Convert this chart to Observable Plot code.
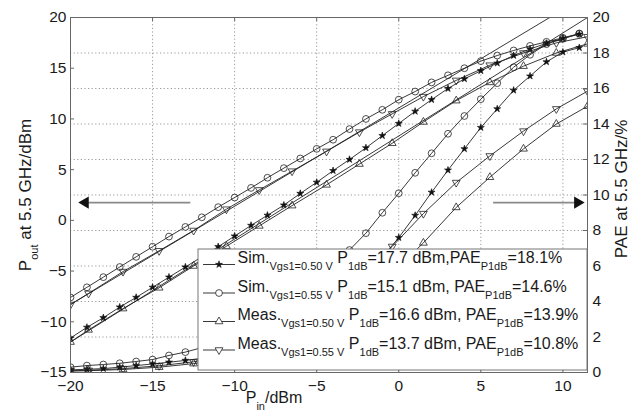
<!DOCTYPE html>
<html><head><meta charset="utf-8">
<script src="https://cdn.jsdelivr.net/npm/d3@7"></script>
<script src="https://cdn.jsdelivr.net/npm/@observablehq/plot@0.6"></script>
<style>
html,body{margin:0;padding:0;background:#fff;}
#chart{width:630px;height:411px;overflow:hidden;}
</style></head><body><div id="chart"></div>
<script>
// ---- data ----
const pinSim = [-20,-19,-18,-17,-16,-15,-14,-13,-12,-11,-10,-9,-8,-7,-6,-5,-4,-3,-2,-1,0,1,2,3,4,5,6,7,8,9,10,11];
const poutSim050 = [-11.6,-10.55,-9.6,-8.55,-7.6,-6.6,-5.6,-4.6,-3.6,-2.6,-1.55,-0.5,0.5,1.5,2.65,3.75,4.9,6.0,7.15,8.35,9.55,10.75,11.9,13.0,13.95,14.75,15.5,16.25,16.9,17.45,17.95,18.35];
const poutSim055 = [-7.6,-6.6,-5.6,-4.6,-3.6,-2.6,-1.6,-0.65,0.3,1.3,2.25,3.2,4.2,5.15,6.1,7.05,7.95,9.0,10.0,10.9,11.9,12.7,13.6,14.3,15.0,15.7,16.25,16.75,17.2,17.6,18.0,18.4];
const paeSim050 = [0.15,0.18,0.22,0.3,0.39,0.48,0.58,0.68,0.8,0.95,1.15,1.4,1.7,2.05,2.5,3.05,3.75,4.6,5.5,6.5,7.6,8.85,10.15,11.4,12.6,13.8,14.85,15.9,16.7,17.5,18.05,18.3];
const paeSim055 = [0.3,0.39,0.45,0.52,0.62,0.73,0.96,1.15,1.4,1.7,2.1,2.6,3.1,3.8,4.5,5.3,6.1,6.9,7.85,9.0,10.1,11.25,12.35,13.45,14.45,15.4,16.3,17.2,17.9,18.5,18.8,19.1];
const pinMeas = [-20,-18.9,-16.8,-14.6,-12.5,-10.5,-8.5,-6.5,-4.4,-2.4,-0.4,1.5,3.5,5.55,7.6,9.6,11.5];
const poutMeas050 = [-12.0,-10.8,-8.7,-6.65,-4.5,-2.55,-0.55,1.45,3.5,5.55,7.6,9.7,11.8,13.6,15.2,16.5,17.4];
const poutMeas055 = [-8.3,-7.2,-5.05,-3.0,-1.0,1.1,3.0,4.85,6.8,8.7,10.5,12.2,13.8,15.3,16.5,17.5,18.1];
const paeMeas050 = [0.08,0.1,0.17,0.3,0.5,0.8,1.25,1.9,2.8,4.0,5.6,7.3,9.3,11.0,12.6,14.0,15.0];
const paeMeas055 = [0.1,0.12,0.22,0.38,0.6,1.0,1.6,2.5,3.7,5.3,7.1,8.95,10.7,12.2,13.6,14.85,15.85];
// linear (small-signal) extrapolation lines of the measured curves
const fitMeas055X = [-20, 9.2], fitMeas055Y = [-8.3, 20];
const fitMeas050X = [-20, 11.5], fitMeas050Y = [-12.0, 20];
// axes
const xTicks = [-20,-15,-10,-5,0,5,10];
const leftTicks = [-15,-10,-5,0,5,10,15,20];
const rightTicks = [0,2,4,6,8,10,12,14,16,18,20];
// legend
const seriesNames = ["Sim.","Sim.","Meas.","Meas."];
const seriesSubs = ["Vgs1=0.50 V","Vgs1=0.55 V","Vgs1=0.50 V","Vgs1=0.55 V"];
const p1dB = ["17.7","15.1","16.6","13.7"];
const paeP1dB = ["18.1","14.6","13.9","10.8"];
const seriesSymbols = ["star","circle","triangle","triangle"];
// annotation arrows (x from tail to head, y in left-axis units)
const arrowLeftX = [-12.7, -19.1], arrowRightX = [5.75, 10.9], arrowY = 1.75;

// ---- build ----
const toLeft = p => -15 + p * 35 / 20;
const fromLeft = v => (v + 15) * 20 / 35;
function series(xs, ys, key, pae) {
  return xs.map((x, i) => ({x, y: pae ? toLeft(ys[i]) : ys[i], key}));
}
const starData = [...series(pinSim, poutSim050, "s50p"), ...series(pinSim, paeSim050, "s50e", true)];
const circData = [...series(pinSim, poutSim055, "s55p"), ...series(pinSim, paeSim055, "s55e", true)];
const upData = [...series(pinMeas, poutMeas050, "m50p"), ...series(pinMeas, paeMeas050, "m50e", true)];
const downData = [...series(pinMeas, poutMeas055, "m55p"), ...series(pinMeas, paeMeas055, "m55e", true)];
const fitData = [...series(fitMeas055X, fitMeas055Y, "f55"), ...series(fitMeas050X, fitMeas050Y, "f50")];
const allCurves = [...starData, ...circData, ...upData, ...downData];
const arrowShaft = [
  {x1: arrowLeftX[0], x2: arrowLeftX[1], y: arrowY},
  {x1: arrowRightX[0], x2: arrowRightX[1], y: arrowY}
];
const arrowHeads = [
  {x: arrowLeftX[1], y: arrowY, rot: -90},
  {x: arrowRightX[1], y: arrowY, rot: 90}
];

const W = 630, H = 411, mL = 70, mR = 43, mT = 17, mB = 39;
const pw = W - mL - mR, ph = H - mT - mB;
const FONT = "'Liberation Sans', Arial, Helvetica, sans-serif";
const INK = "#1a1a1a";
const lineC = "#222";
const TICKFS = 15.5;

const plot = Plot.plot({
  width: W, height: H,
  marginLeft: mL, marginRight: mR, marginTop: mT, marginBottom: mB,
  style: {fontFamily: FONT, fontSize: "15px", color: INK, background: "#fff"},
  x: {domain: [-20, 11.5]},
  y: {domain: [-15, 20]},
  marks: [
    Plot.gridX(xTicks, {stroke: "#9a9a9a", strokeOpacity: 1, strokeDasharray: "1.2,2.4"}),
    Plot.gridY(rightTicks.map(toLeft), {stroke: "#9a9a9a", strokeOpacity: 1, strokeDasharray: "1.2,2.4"}),
    Plot.line(fitData, {x: "x", y: "y", z: "key", stroke: lineC, strokeWidth: 0.9, clip: true}),
    Plot.line(allCurves, {x: "x", y: "y", z: "key", stroke: lineC, strokeWidth: 0.9, clip: true}),
    Plot.dot(starData, {x: "x", y: "y", symbol: "star", r: 2.2, fill: "#111", stroke: "#111", strokeWidth: 0.6, clip: true}),
    Plot.dot(circData, {x: "x", y: "y", symbol: "circle", r: 3.4, fill: "none", stroke: "#222", strokeWidth: 0.8, clip: true}),
    Plot.dot(upData, {x: "x", y: "y", symbol: "triangle", r: 2.9, fill: "none", stroke: "#222", strokeWidth: 0.8, clip: true}),
    Plot.dot(downData, {x: "x", y: "y", symbol: "triangle", rotate: 180, r: 2.9, fill: "none", stroke: "#222", strokeWidth: 0.8, clip: true}),
    Plot.link(arrowShaft, {x1: "x1", x2: "x2", y1: "y", y2: "y", stroke: "#8a8a8a", strokeWidth: 1.6}),
    Plot.dot(arrowHeads, {x: "x", y: "y", symbol: "triangle", rotate: "rot", r: 4.5, fill: "#111", stroke: "none"}),
    Plot.frame({stroke: "#666", strokeWidth: 1}),
    Plot.tickY(leftTicks, {insetRight: pw - 4, stroke: "#666"}),
    Plot.tickY(rightTicks.map(toLeft), {insetLeft: pw - 4, stroke: "#666"}),
    Plot.tickX(xTicks, {insetTop: ph - 4, stroke: "#666"}),
    Plot.tickX(xTicks, {insetBottom: ph - 4, stroke: "#666"}),
    Plot.axisX(xTicks, {anchor: "bottom", tickSize: 0, tickPadding: 7, fontSize: TICKFS, label: null}),
    Plot.axisY(leftTicks, {anchor: "left", tickSize: 0, tickPadding: 4, fontSize: TICKFS, label: null}),
    Plot.axisY(rightTicks.map(toLeft), {anchor: "right", tickSize: 0, tickPadding: 5, fontSize: TICKFS, label: null,
      tickFormat: v => String(Math.round(fromLeft(v)))})
  ]
});
document.getElementById("chart").appendChild(plot);

// ---- labels and legend ----
const svg = d3.select(plot);
const SUB = 11, DY = 7;

function richText(g, parts, size) {
  let prevSub = false;
  parts.forEach(([t, sub]) => {
    const ts = g.append("tspan").text(t);
    if (sub) { ts.attr("font-size", SUB); if (!prevSub) ts.attr("dy", DY); }
    else { ts.attr("font-size", size); if (prevSub) ts.attr("dy", -DY); }
    prevSub = sub;
  });
}

// x label
const xl = svg.append("text").attr("x", 274).attr("y", 403).attr("text-anchor", "middle")
  .attr("fill", INK).style("white-space", "pre").attr("font-family", FONT);
richText(xl, [["P", false], ["in", true], ["/dBm", false]], 16);

// left y label
const yl = svg.append("text").attr("transform", "translate(31,195) rotate(-90)").attr("text-anchor", "middle")
  .attr("fill", INK).style("white-space", "pre").attr("font-family", FONT);
richText(yl, [["P", false], ["out", true], [" at 5.5 GHz/dBm", false]], 17);

// right y label
const yr = svg.append("text").attr("transform", "translate(627,189) rotate(-90)").attr("text-anchor", "middle")
  .attr("fill", INK).style("white-space", "pre").attr("font-family", FONT).attr("font-size", 17);
yr.text("PAE at 5.5 GHz/%");

// legend
const lg = svg.append("g").attr("text-anchor", "start");
const lx = 198, ly = 249, lw = 389, lh = 121;
lg.append("rect").attr("x", lx).attr("y", ly).attr("width", lw).attr("height", lh)
  .attr("fill", "#fff").attr("stroke", "#777").attr("stroke-width", 1);
const rowBase = [263, 291.5, 320, 348.5];
const symMap = {star: d3.symbolStar, circle: d3.symbolCircle, triangle: d3.symbolTriangle};
const symR = {star: 2.2, circle: 3.4, triangle: 2.9};
seriesNames.forEach((name, i) => {
  const by = rowBase[i], ly2 = by + 1.5;
  lg.append("line").attr("x1", 203).attr("x2", 235).attr("y1", ly2).attr("y2", ly2)
    .attr("stroke", lineC).attr("stroke-width", 0.9);
  const s = seriesSymbols[i];
  const r = symR[s];
  lg.append("path").attr("d", d3.symbol(symMap[s], Math.PI * r * r)())
    .attr("transform", `translate(219,${ly2})` + (i === 3 ? " rotate(180)" : ""))
    .attr("fill", s === "star" ? "#111" : "#fff").attr("stroke", "#222").attr("stroke-width", s === "star" ? 0.6 : 0.8);
  const t = lg.append("text").attr("x", 237.5).attr("y", by).attr("fill", INK)
    .attr("text-anchor", "start").style("white-space", "pre").attr("font-family", FONT);
  richText(t, [
    [name, false], [seriesSubs[i], true], [" P", false], ["1dB", true],
    ["=" + p1dB[i] + " dBm," + (i === 0 ? "" : " ") + "PAE", false], ["P1dB", true],
    ["=" + paeP1dB[i] + "%", false]
  ], 16);
});
</script>
</body></html>
